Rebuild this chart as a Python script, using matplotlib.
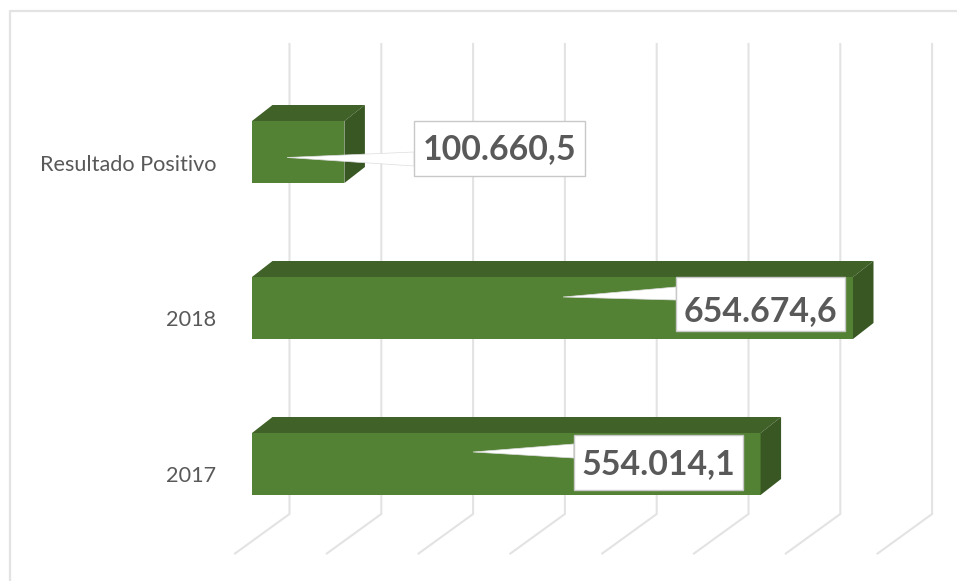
#!/usr/bin/env python

import matplotlib

matplotlib.use("Agg")
import matplotlib.pyplot as plt
from matplotlib.patches import Polygon, Rectangle

categories = ["2017", "2018", "Resultado Positivo"]
values = [554014.1, 654674.6, 100660.5]
value_labels = ["554.014,1", "654.674,6", "100.660,5"]
grid_values = [0, 100000, 200000, 300000, 400000, 500000, 600000, 700000]

colors = {
    "front": "#548235",
    "top": "#406127",
    "side": "#385723",
    "grid": "#e3e3e3",
    "text": "#595959",
    "box_edge": "#c8c8c8",
    "wedge_edge": "#dddddd",
}

W, H = 957, 581
px_per_unit = 0.000918
x_zero = 252

# everything vertical is in image pixels, x is in value units
def dx(pixels):
    return pixels / px_per_unit


fig = plt.figure(figsize=(W / 100, H / 100), dpi=100)
ax = fig.add_axes([0, 0, 1, 1])
ax.set_xlim(-x_zero / px_per_unit, (W - x_zero) / px_per_unit)
ax.set_ylim(H, 0)
ax.axis("off")

# chart frame, only top and left are inside the crop
ax.plot([dx(10 - x_zero), dx(10 - x_zero), dx(W - x_zero)], [H, 11, 11], color=colors["grid"], lw=1.6, zorder=1)

# gridlines with the floor part
for v in grid_values:
    x_back = v + dx(37.5)
    x_floor = v - dx(17)
    ax.plot([x_back, x_back, x_floor], [44, 514, 553.5], color=colors["grid"], lw=1.5, zorder=1, solid_joinstyle="miter")

bar_height = 62
depth_x = dx(20.5)
depth_y = 16
slot_gap = 156
bottom_slot = 464

box_centers = [dx(658.5 - x_zero), dx(760.5 - x_zero), dx(499.5 - x_zero)]
box_widths = [dx(169.5), dx(169), dx(171)]
box_y = [(435, 490), (277, 331), (121, 176)]
tips = [(dx(473 - x_zero), 452), (dx(563 - x_zero), 297), (dx(287 - x_zero), 157.5)]
wedge_y = [(444, 458), (287, 300), (152, 166)]
tick_y = [476, 320, 165]
label_y = [464, 311, 149]

for i, (name, v) in enumerate(zip(categories, values)):
    yc = bottom_slot - slot_gap * i
    top = yc - bar_height / 2
    bot = yc + bar_height / 2

    ax.add_patch(Rectangle((0, top), v, bar_height, fc=colors["front"], ec="none", zorder=3))
    ax.add_patch(Polygon([(0, top), (depth_x, top - depth_y), (v + depth_x, top - depth_y), (v, top)], fc=colors["top"], ec="none", zorder=3))
    ax.add_patch(Polygon([(v, top), (v + depth_x, top - depth_y), (v + depth_x, bot - depth_y), (v, bot)], fc=colors["side"], ec="none", zorder=3))

    ax.text(dx(216 - x_zero), tick_y[i], name, ha="right", va="center", fontsize=15.6, family="Lato", color=colors["text"], zorder=6)

    # data label callout
    bx = box_centers[i] - box_widths[i] / 2
    y0, y1 = box_y[i]
    ax.add_patch(Polygon([tips[i], (bx, wedge_y[i][0]), (bx, wedge_y[i][1])], fc="white", ec=colors["wedge_edge"], lw=0.5, zorder=4))
    ax.add_patch(Rectangle((bx, y0), box_widths[i], y1 - y0, fc="white", ec=colors["box_edge"], lw=1, zorder=5))
    ax.text(box_centers[i], label_y[i], value_labels[i], ha="center", va="center", fontsize=24.4, fontweight="bold", family="Lato", color=colors["text"], zorder=6)

fig.savefig("out.png", dpi=100)
